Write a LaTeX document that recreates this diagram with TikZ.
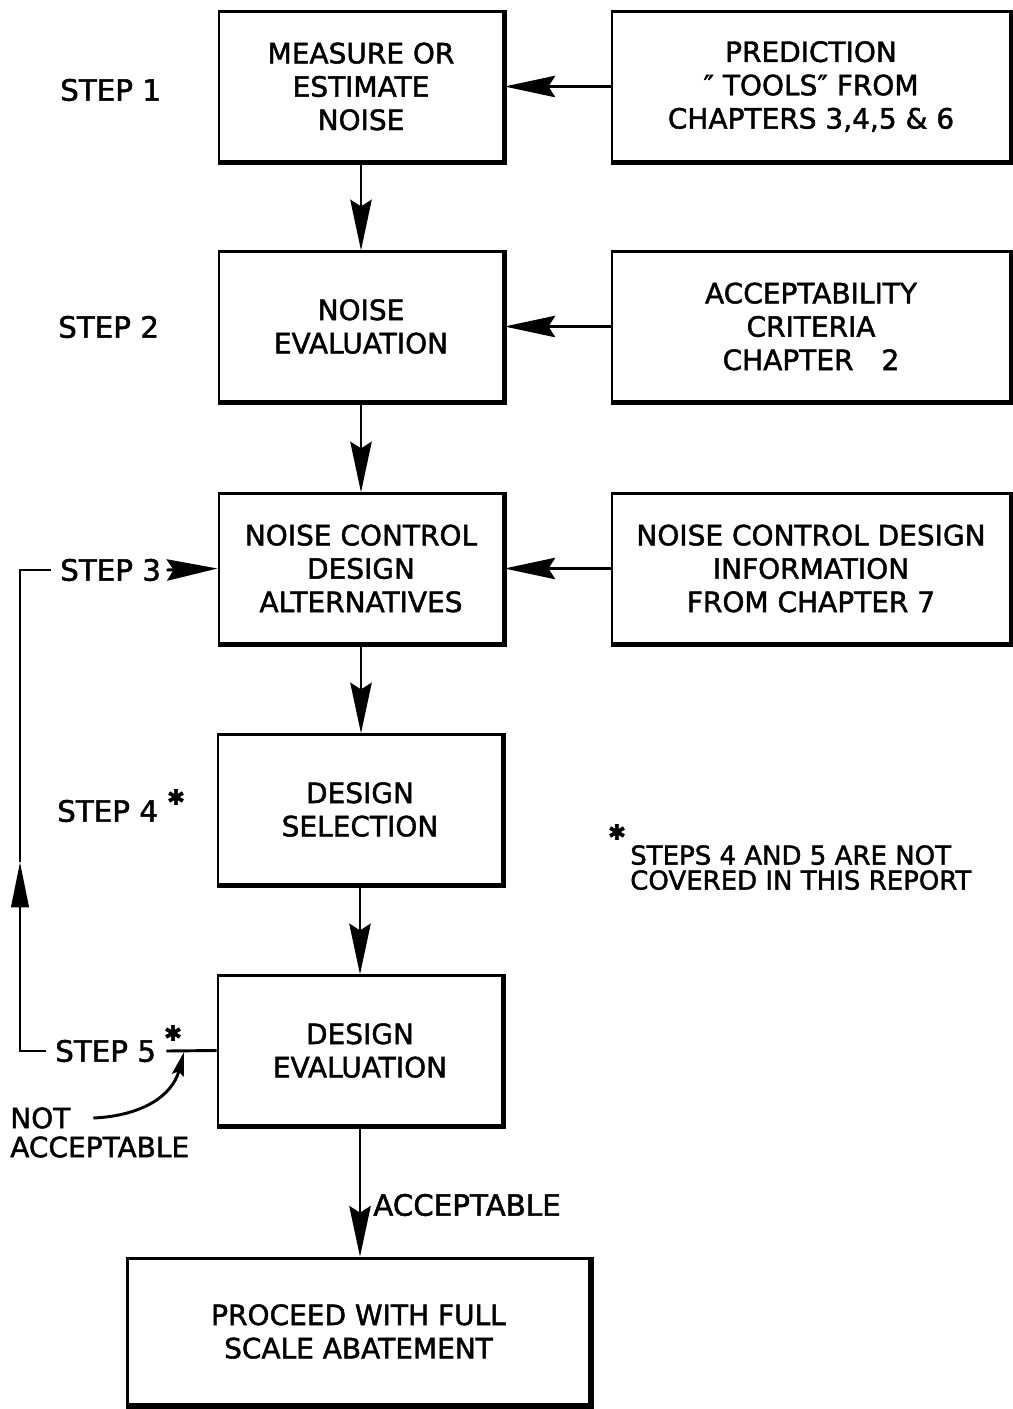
\documentclass[tikz,border=0pt]{standalone}
\usepackage{fontspec}
\setmainfont{DejaVu Sans}[FakeBold=1.6]
\usetikzlibrary{arrows.meta}
\begin{document}
\begin{tikzpicture}[x=0.75pt,y=-0.75pt,
  txt/.style={font=\fontsize{21}{25}\selectfont, inner sep=0pt},
  tag/.style={font=\fontsize{22}{25}\selectfont, inner sep=0pt, anchor=west},
  box/.style={draw, line width=2.2pt, align=center, txt,
              minimum width=213pt, minimum height=112pt},
  rbox/.style={box, minimum width=298.5pt},
  shadowline/.style={line width=4pt, line join=miter},
  conn/.style={line width=2.2pt},
  arr/.style={conn, -{Stealth[length=38pt,width=16pt,inset=5pt]}},
  uparr/.style={conn, -{Triangle[length=34pt,width=13pt]}},
  smallarr/.style={conn, -{Stealth[length=18pt,width=9pt,inset=3pt]}},
  star/.style={font=\fontsize{16}{16}\selectfont, inner sep=0pt},
  note/.style={font=\fontsize{19.5}{18.75}\selectfont, inner sep=0pt, align=left}
]
\useasboundingbox (0,0) rectangle (1013,1409);

% main boxes
\node[box]  (b1) at (361,86.5)   {MEASURE OR\\ESTIMATE\\NOISE};
\node[rbox] (r1) at (811,86.5)   {PREDICTION\\″ TOOLS″ FROM\\CHAPTERS 3,4,5 \& 6};
\node[box]  (b2) at (361,326.5)  {NOISE\\EVALUATION};
\node[rbox] (r2) at (811,326.5)  {ACCEPTABILITY\\CRITERIA\\CHAPTER\quad 2};
\node[box]  (b3) at (361,568.5)  {NOISE CONTROL\\DESIGN\\ALTERNATIVES};
\node[rbox] (r3) at (811,568.5)  {NOISE CONTROL DESIGN\\INFORMATION\\FROM CHAPTER 7};
\node[box]  (b4) at (360,809.5)  {DESIGN\\SELECTION};
\node[box]  (b5) at (360,1050.5) {DESIGN\\EVALUATION};
\node[box, minimum width=347pt, minimum height=110pt] (b6) at (358.5,1331.5)
      {PROCEED WITH FULL\\SCALE ABATEMENT};

\foreach \n in {b1,r1,b2,r2,b3,r3,b4,b5,b6}
  \draw[shadowline] (\n.north east) -- (\n.south east) -- (\n.south west);

% step labels
\node[tag] (s1) at (60,90)   {STEP 1};
\node[tag] (s2) at (58,327)  {STEP 2};
\node[tag] (s3) at (60,570)  {STEP 3};
\node[tag] (s4) at (57,811)  {STEP 4};
\node[star] (st4) at (176,797) {✱};
\node[tag] (s5) at (55,1051) {STEP 5};
\node[star] (st5) at (173,1033) {✱};

% vertical flow
\draw[arr] (b1.south) -- (b2.north);
\draw[arr] (b2.south) -- (b3.north);
\draw[arr] (b3.south) -- (b3.south |- b4.north);
\draw[arr] (b4.south) -- (b5.north);
\draw[arr] (b5.south) -- (b5.south |- b6.north);
\node[tag] (acc) at (373,1205) {ACCEPTABLE};

% inputs from right
\draw[arr] (r1.west) -- (b1.east);
\draw[arr] (r2.west) -- (b2.east);
\draw[arr] (r3.west) -- (b3.east);

% feedback loop
\coordinate (lb) at (20,1051);
\coordinate (up) at (20,862);
\coordinate (lt) at (20,570);
\coordinate (t5) at (184,1052);
\draw[conn] (b5.west) -- ([xshift=7.5pt]s5.east);
\draw[uparr] ([xshift=-7pt]s5.west) -- (lb) -- (up);
\draw[conn] (up) -- (lt) -- ([xshift=-7pt]s3.west);
\draw[arr] ([xshift=4pt]s3.east) -- (b3.west);

% not acceptable
\node[txt, anchor=west] (nt) at (10,1118) {NOT};
\node[txt, anchor=west] (na) at (10,1147) {ACCEPTABLE};
\draw[smallarr] ([xshift=17pt]nt.east) .. controls (140,1116) and (172,1097) .. (t5);

% footnote
\node[star] (stn) at (617,832) {✱};
\node[note, anchor=north west] (fn) at (630,845) {STEPS 4 AND 5 ARE NOT\\COVERED IN THIS REPORT};
\end{tikzpicture}
\end{document}
